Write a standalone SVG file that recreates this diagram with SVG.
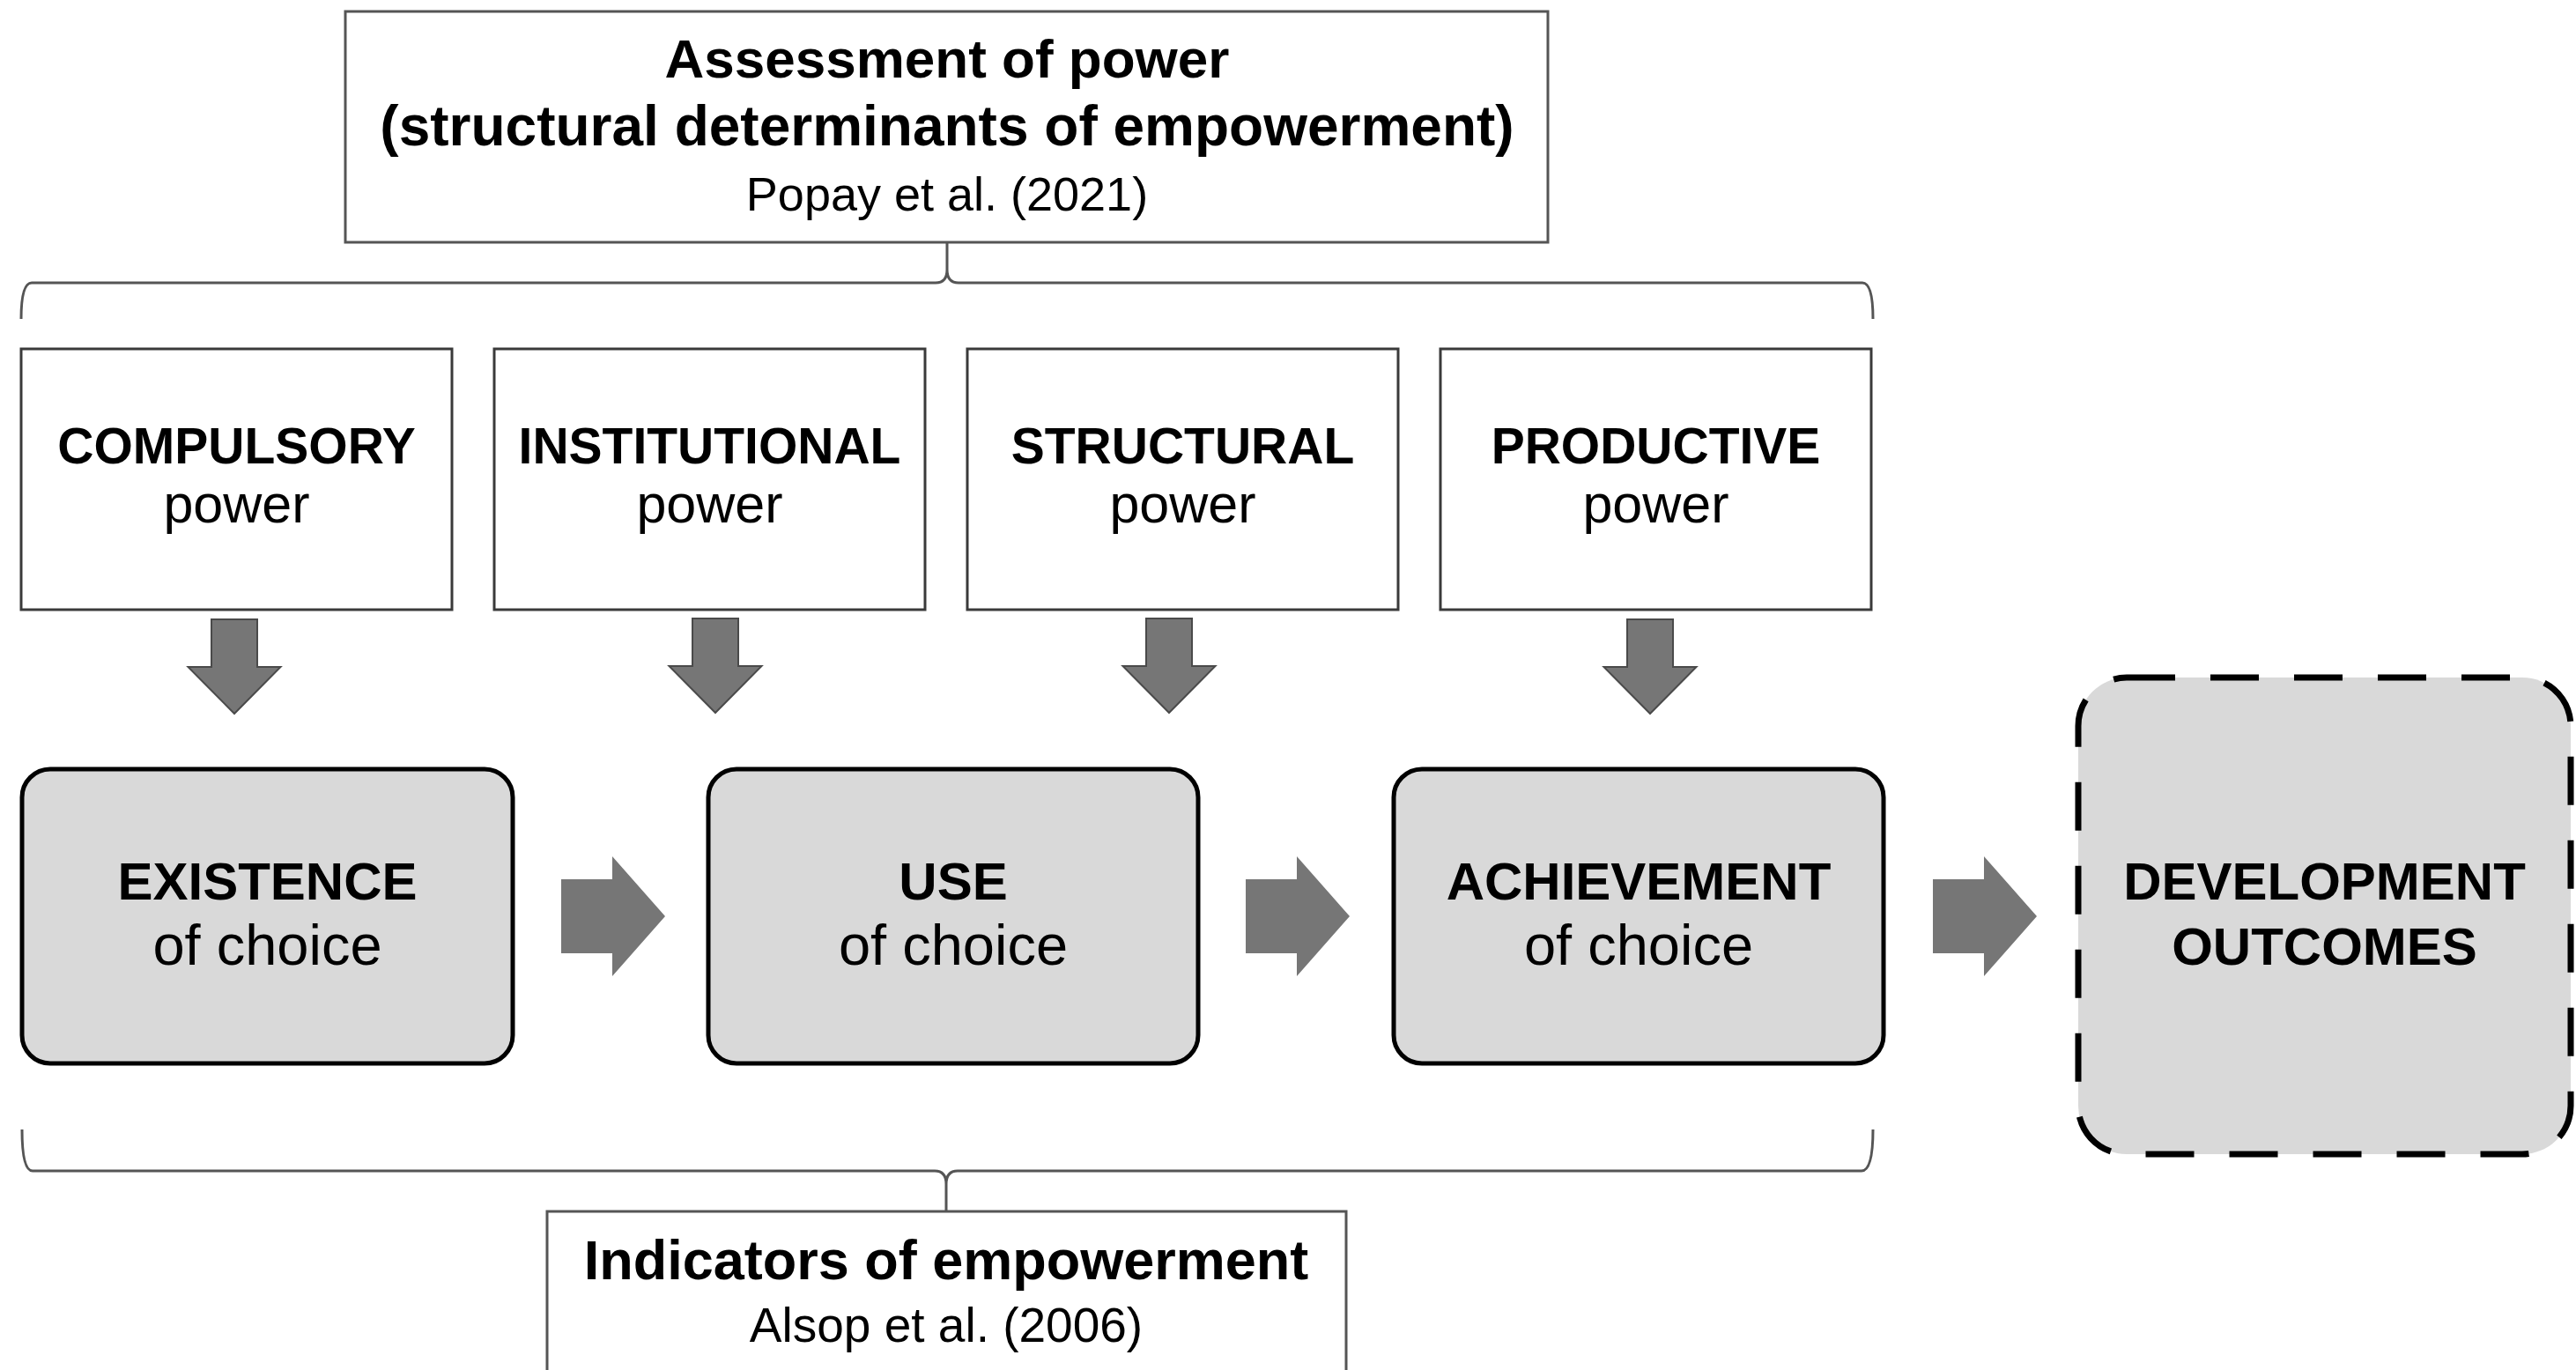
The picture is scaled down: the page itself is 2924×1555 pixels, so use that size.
<svg xmlns="http://www.w3.org/2000/svg" width="2924" height="1555" viewBox="0 0 2924 1555">
<style>
  text { font-family: "Liberation Sans", Arial, sans-serif; fill: #000; text-anchor: middle; }
  .b { font-weight: bold; }
  .ref { fill: #fff; stroke: #555; stroke-width: 3; }
  .pw { fill: #fff; stroke: #3a3a3a; stroke-width: 3; }
  .ch { fill: #d9d9d9; stroke: #000; stroke-width: 5; }
  .out { fill: #d9d9d9; stroke: #000; stroke-width: 7; stroke-dasharray: 55 40; }
  .brace { fill: none; stroke: #555; stroke-width: 3; }
  .arr { fill: #767676; }
  .darr { fill: #767676; stroke: #4a4a4a; stroke-width: 2; }
</style>
<defs>
  <path id="down" d="M-26,0 H26 V54 H52.5 L0,107 L-52.5,54 H-26 Z"/>
  <path id="right" d="M0,-42 H58 V-68 L118,0 L58,68 V42 H0 Z"/>
</defs>
<rect width="2924" height="1555" fill="#fff"/>

<g id="connectors">
  <path class="brace" d="M24,362 Q24,321 36,321 L1062,321 Q1075,321 1075,306 L1075,276 M1075,306 Q1075,321 1088,321 L2114,321 Q2126,321 2126,362"/>
  <path class="brace" d="M25,1282 Q25,1329 37,1329 L1061,1329 Q1074,1329 1074,1344 L1074,1375 M1074,1344 Q1074,1329 1087,1329 L2113,1329 Q2126,1329 2126,1282"/>
  <use href="#down" class="darr" transform="translate(266,703)"/>
  <use href="#down" class="darr" transform="translate(812,702)"/>
  <use href="#down" class="darr" transform="translate(1327,702)"/>
  <use href="#down" class="darr" transform="translate(1873,703)"/>
  <use href="#right" class="arr" transform="translate(637,1040)"/>
  <use href="#right" class="arr" transform="translate(1414,1040)"/>
  <use href="#right" class="arr" transform="translate(2194,1040)"/>
</g>

<g id="assessment">
  <rect class="ref" x="392" y="13" width="1365" height="262"/>
  <text class="b" x="1075" y="88" font-size="62">Assessment of power</text>
  <text class="b" x="1075" y="165" font-size="64">(structural determinants of empowerment)</text>
  <text x="1075" y="239" font-size="54">Popay et al. (2021)</text>
</g>

<g id="compulsory">
  <rect class="pw" x="24" y="396" width="489" height="296"/>
  <text class="b" x="268.5" y="526" font-size="57">COMPULSORY</text>
  <text x="268.5" y="593" font-size="61">power</text>
</g>
<g id="institutional">
  <rect class="pw" x="561" y="396" width="489" height="296"/>
  <text class="b" x="805.5" y="526" font-size="57">INSTITUTIONAL</text>
  <text x="805.5" y="593" font-size="61">power</text>
</g>
<g id="structural">
  <rect class="pw" x="1098" y="396" width="489" height="296"/>
  <text class="b" x="1342.5" y="526" font-size="57">STRUCTURAL</text>
  <text x="1342.5" y="593" font-size="61">power</text>
</g>
<g id="productive">
  <rect class="pw" x="1635" y="396" width="489" height="296"/>
  <text class="b" x="1879.5" y="526" font-size="57">PRODUCTIVE</text>
  <text x="1879.5" y="593" font-size="61">power</text>
</g>

<g id="existence">
  <rect class="ch" x="25" y="873" width="557" height="334" rx="32"/>
  <text class="b" x="303.5" y="1021" font-size="60">EXISTENCE</text>
  <text x="303.5" y="1095" font-size="65">of choice</text>
</g>
<g id="use">
  <rect class="ch" x="804" y="873" width="556" height="334" rx="32"/>
  <text class="b" x="1082" y="1021" font-size="60">USE</text>
  <text x="1082" y="1095" font-size="65">of choice</text>
</g>
<g id="achievement">
  <rect class="ch" x="1582" y="873" width="556" height="334" rx="32"/>
  <text class="b" x="1860" y="1021" font-size="60">ACHIEVEMENT</text>
  <text x="1860" y="1095" font-size="65">of choice</text>
</g>
<g id="outcomes">
  <rect class="out" x="2359" y="769" width="559" height="541" rx="55"/>
  <text class="b" x="2638.5" y="1021" font-size="60">DEVELOPMENT</text>
  <text class="b" x="2638.5" y="1095" font-size="60">OUTCOMES</text>
</g>

<g id="indicators">
  <rect class="ref" x="621" y="1375" width="907" height="200"/>
  <text class="b" x="1074" y="1452" font-size="63">Indicators of empowerment</text>
  <text x="1074" y="1523" font-size="55">Alsop et al. (2006)</text>
</g>
</svg>
